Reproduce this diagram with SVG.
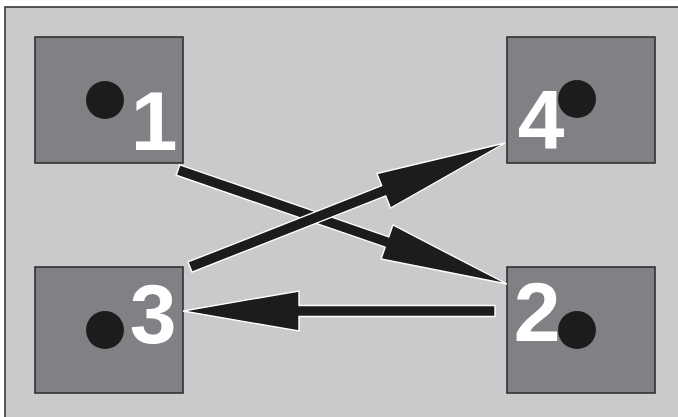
<svg xmlns="http://www.w3.org/2000/svg" width="678" height="417" viewBox="0 0 678 417">
<style>
.box{fill:#808185;stroke:#2d2d2d;stroke-width:1.6}
.dot{fill:#1c1c1c}
.lbl{font-family:"Liberation Sans",Arial,sans-serif;font-weight:bold;font-size:84px;fill:#ffffff;text-anchor:middle}
.arr{fill:#1c1c1c;stroke:#ffffff;stroke-width:1.4;stroke-linejoin:miter}
</style>
<rect x="0" y="0" width="678" height="417" fill="#ffffff"/>
<rect x="5" y="7" width="700" height="430" fill="#c9cacc" stroke="#333333" stroke-width="1.6"/>
<g id="node1">
<rect class="box" x="35" y="37" width="148" height="126"/>
<circle class="dot" cx="105" cy="100" r="19"/>
<text class="lbl" x="154" y="150">1</text>
</g>
<g id="node4">
<rect class="box" x="507" y="37" width="148" height="126"/>
<circle class="dot" cx="577" cy="99" r="19"/>
<text class="lbl" x="541" y="149">4</text>
</g>
<g id="node3">
<rect class="box" x="35" y="267" width="148" height="126"/>
<circle class="dot" cx="105" cy="330" r="19"/>
<text class="lbl" x="153" y="343">3</text>
</g>
<g id="node2">
<rect class="box" x="507" y="267" width="148" height="126"/>
<circle class="dot" cx="577" cy="330" r="19"/>
<text class="lbl" x="537" y="341">2</text>
</g>
<g id="connectors">
<polygon class="arr" points="179.8,164.8 388.8,236.8 392.9,225 507,284 381.1,259 385.2,247.2 176.2,175.2"/>
<polygon class="arr" points="188.0,261.9 381.7,185.7 376.9,173.6 505,143 390.5,208.0 385.7,195.9 192.0,272.1"/>
<polygon class="arr" points="495,305.5 299,305.5 299,291 183,311 299,331 299,316.5 495,316.5"/>
</g>
</svg>
